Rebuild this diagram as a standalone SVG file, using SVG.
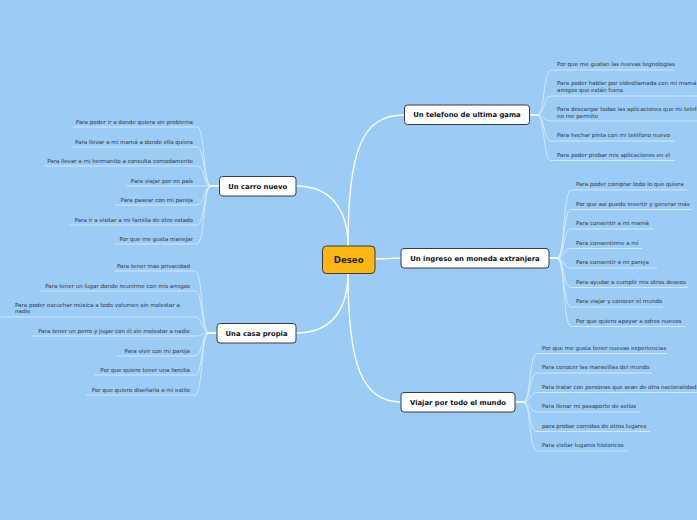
<svg xmlns="http://www.w3.org/2000/svg" width="697" height="520" viewBox="0 0 697 520">
<style>
.bg{fill:#9CCBF6}
.node{fill:#ffffff;stroke:#3a3a3a;stroke-width:1}
.root{fill:#FDB714;stroke:#3a3a3a;stroke-width:1}
.nt{font-family:"DejaVu Sans",Verdana,sans-serif;font-weight:bold;font-size:6.85px;fill:#111;text-anchor:middle}
.rt{font-family:"DejaVu Sans",Verdana,sans-serif;font-weight:bold;font-size:8.6px;fill:#222;text-anchor:middle}
.lt{font-family:"DejaVu Sans",Verdana,sans-serif;font-size:5.55px;fill:#2b3440}
.le{text-anchor:end}
.main{fill:none;stroke:#ffffff;stroke-width:1.4}
.leaf{fill:none;stroke:#ffffff;stroke-opacity:0.55;stroke-width:1}
</style>
<rect class="bg" x="0" y="0" width="697" height="520"/>
<g id="connectors">
<path class="main" d="M348,246 C348,150 362,115 404,115"/>
<path class="main" d="M296,186 C335,186 348,215 348,246"/>
<path class="main" d="M296,333 C335,333 348,305 348,273"/>
<path class="main" d="M348,273 C348,365 362,402 401,402"/>
<path class="main" d="M375,259 L401,258"/>
<path class="leaf" d="M529,115 H537 C545,115 543,70 551,70 H674"/>
<path class="leaf" d="M529,115 H537 C545,115 543,96 551,96 H697"/>
<path class="leaf" d="M529,115 H537 C545,115 543,121 551,121 H697"/>
<path class="leaf" d="M529,115 H537 C545,115 543,141 551,141 H675"/>
<path class="leaf" d="M529,115 H537 C545,115 543,160.5 551,160.5 H675"/>
<path class="leaf" d="M549,258 H557 C565,258 563,190 571,190 H687"/>
<path class="leaf" d="M549,258 H557 C565,258 563,209.5 571,209.5 H692"/>
<path class="leaf" d="M549,258 H557 C565,258 563,229 571,229 H653"/>
<path class="leaf" d="M549,258 H557 C565,258 563,248.5 571,248.5 H642"/>
<path class="leaf" d="M549,258 H557 C565,258 563,268 571,268 H657"/>
<path class="leaf" d="M549,258 H557 C565,258 563,287.5 571,287.5 H688"/>
<path class="leaf" d="M549,258 H557 C565,258 563,307 571,307 H663"/>
<path class="leaf" d="M549,258 H557 C565,258 563,326.5 571,326.5 H685"/>
<path class="leaf" d="M515,402 H523 C531,402 529,353.5 537,353.5 H667"/>
<path class="leaf" d="M515,402 H523 C531,402 529,373 537,373 H652"/>
<path class="leaf" d="M515,402 H523 C531,402 529,392.5 537,392.5 H697"/>
<path class="leaf" d="M515,402 H523 C531,402 529,412 537,412 H640"/>
<path class="leaf" d="M515,402 H523 C531,402 529,431.5 537,431.5 H650"/>
<path class="leaf" d="M515,402 H523 C531,402 529,451 537,451 H628"/>
<path class="leaf" d="M219,186 H211 C203,186 205,127 197,127 H73"/>
<path class="leaf" d="M219,186 H211 C203,186 205,147 197,147 H72"/>
<path class="leaf" d="M219,186 H211 C203,186 205,166 197,166 H44"/>
<path class="leaf" d="M219,186 H126"/>
<path class="leaf" d="M219,186 H211 C203,186 205,205 197,205 H115"/>
<path class="leaf" d="M219,186 H211 C203,186 205,225 197,225 H69"/>
<path class="leaf" d="M219,186 H211 C203,186 205,244 197,244 H114"/>
<path class="leaf" d="M217,333 H209 C201,333 203,271 195,271 H114"/>
<path class="leaf" d="M217,333 H209 C201,333 203,291 195,291 H40"/>
<path class="leaf" d="M217,333 H209 C201,333 203,317 195,317 H0"/>
<path class="leaf" d="M217,333 H209 C201,333 203,336 195,336 H32"/>
<path class="leaf" d="M217,333 H209 C201,333 203,356 195,356 H117"/>
<path class="leaf" d="M217,333 H209 C201,333 203,375 195,375 H94"/>
<path class="leaf" d="M217,333 H209 C201,333 203,395 195,395 H86"/>
</g>
<g id="deseo">
<rect class="root" x="322.5" y="246" width="52.5" height="27.5" rx="4"/>
<text class="rt" x="348.7" y="262.8">Deseo</text>
</g>
<g id="telefono">
<rect class="node" x="404.5" y="105" width="125" height="19.5" rx="3"/>
<text class="nt" x="467" y="117.4">Un telefono de ultima gama</text>
</g>
<g id="ingreso">
<rect class="node" x="401" y="248.5" width="148" height="19.5" rx="3"/>
<text class="nt" x="475" y="260.9">Un ingreso en moneda extranjera</text>
</g>
<g id="viajar">
<rect class="node" x="401" y="392.5" width="114" height="19.5" rx="3"/>
<text class="nt" x="458" y="404.9">Viajar por todo el mundo</text>
</g>
<g id="carro">
<rect class="node" x="219.5" y="176.5" width="76.5" height="19.5" rx="3"/>
<text class="nt" x="257.7" y="188.9">Un carro nuevo</text>
</g>
<g id="casa">
<rect class="node" x="217" y="323.5" width="79" height="19.5" rx="3"/>
<text class="nt" x="256.5" y="335.9">Una casa propia</text>
</g>
<g id="telefono-leaves" class="lt">
<text x="557" y="66">Por que me gustan las nuevas tegnologias</text>
<text x="557" y="85">Para poder hablar por videollamada con mi mamá</text>
<text x="557" y="92">amigos que están fuera</text>
<text x="557" y="111">Para descargar todas las aplicaciones que mi telefo</text>
<text x="557" y="118">no me permite</text>
<text x="557" y="137">Para hechar pinta con mi teléfono nuevo</text>
<text x="557" y="157">Para poder probar mis aplicaciones en el</text>
</g>
<g id="ingreso-leaves" class="lt">
<text x="576" y="186.3">Para poder comprar todo lo que quiera</text>
<text x="576" y="205.8">Por que así puedo invertir y generar más</text>
<text x="576" y="225.3">Para consentir a mi mamá</text>
<text x="576" y="244.8">Para consentirme a mí</text>
<text x="576" y="264.3">Para consentir a mi pareja</text>
<text x="576" y="283.8">Para ayudar a cumplir mis otros deseos</text>
<text x="576" y="303.3">Para viajar y conocer el mundo</text>
<text x="576" y="322.8">Por que quiero apoyar a odres nuevos</text>
</g>
<g id="viajar-leaves" class="lt">
<text x="542" y="349.8">Por que me gusta tener nuevas experiencias</text>
<text x="542" y="369.3">Para conocer las maravillas del mundo</text>
<text x="542" y="388.8">Para tratar con personas que sean de otra nacionalidad</text>
<text x="542" y="408.3">Para llenar mi pasaporte de sellos</text>
<text x="542" y="427.8">para probar comidas de otros lugares</text>
<text x="542" y="447.3">Para visitar lugares historicos</text>
</g>
<g id="carro-leaves" class="lt">
<text class="le" x="193" y="123.8">Para poder ir a donde quiera sin problema</text>
<text class="le" x="193" y="143.8">Para llevar a mi mamá a donde ella quiera</text>
<text class="le" x="193" y="162.8">Para llevar a mi hermanito a consulta comodamente</text>
<text class="le" x="193" y="182.8">Para viajar por mi país</text>
<text class="le" x="193" y="201.8">Para pasear con mi pareja</text>
<text class="le" x="193" y="221.8">Para ir a visitar a mi familia de otro estado</text>
<text class="le" x="193" y="240.8">Por que me gusta manejar</text>
</g>
<g id="casa-leaves" class="lt">
<text class="le" x="190" y="267.5">Para tener más privacidad</text>
<text class="le" x="190" y="287.5">Para tener un lugar donde reunirme con mis amigos</text>
<text x="15" y="306.6">Para poder escuchar música a todo volumen sin molestar a</text>
<text x="15" y="313.3">nadie</text>
<text class="le" x="190" y="332.8">Para tener un perro y jugar con él sin molestar a nadie</text>
<text class="le" x="190" y="352.8">Para vivir con mi pareja</text>
<text class="le" x="190" y="371.8">Por que quiero tener una familia</text>
<text class="le" x="190" y="391.8">Por que quiero diseñarla a mi estilo</text>
</g>
</svg>
